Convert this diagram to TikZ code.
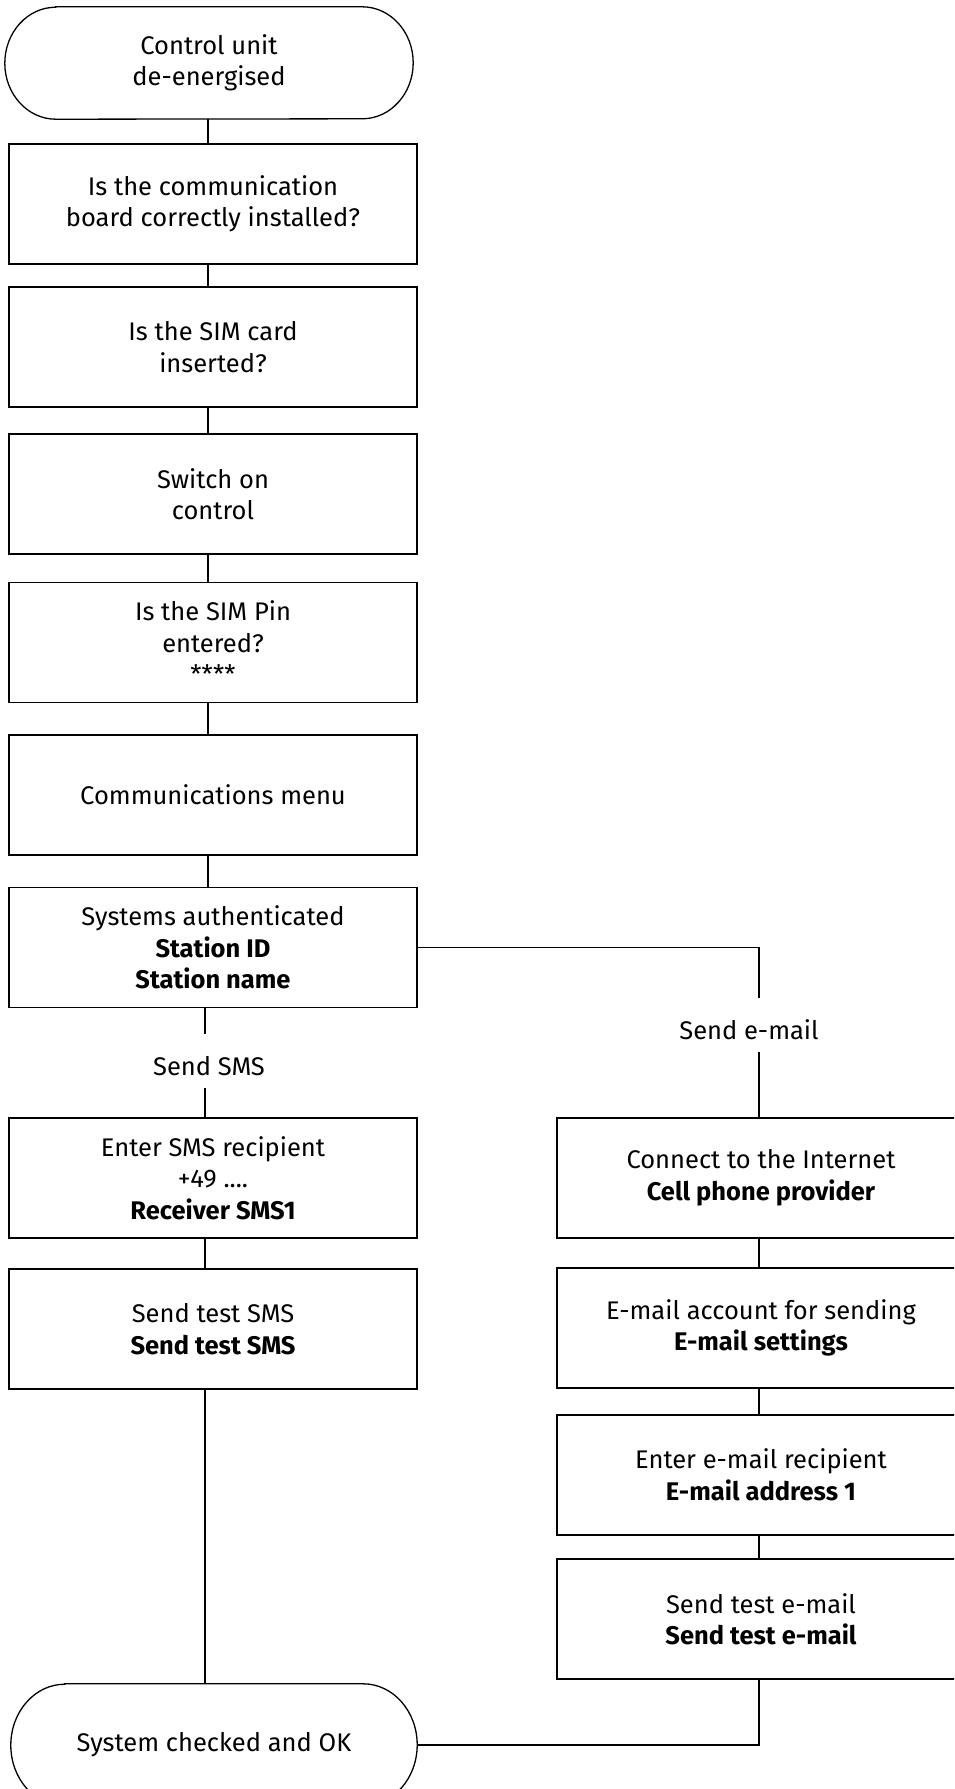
\documentclass[tikz,border=0pt]{standalone}
\usepackage{fontspec}
\setmainfont{Fira Sans}
\usetikzlibrary{calc}
\newcommand\bxfont{\fontsize{25.5}{31.5}\selectfont}
\newcommand\tmfont{\fontsize{25.5}{31}\selectfont}
\tikzset{
  line/.style={line width=1.3pt, black},
  box/.style={draw, line width=1.3pt, minimum width=408pt, minimum height=120pt, inner sep=0pt, align=center, font=\bxfont},
  term/.style={minimum width=408pt, inner sep=0pt, align=center, font=\tmfont},
  lbl/.style={inner sep=0pt, minimum height=54pt, text height=28pt, text depth=0pt, font=\tmfont},
}
\begin{document}
\begin{tikzpicture}[x=1pt,y=-1pt]
\clip (0,0) rectangle (954,1789);
\fill[white] (0,0) rectangle (954,1789);
\coordinate (lxa) at (208,0);
\coordinate (lxb) at (205,0);
\coordinate (rx) at (759,0);

% top terminal
\node[term, minimum height=112pt] (t1) at (209,63) {Control unit\\de-energised};
\draw[line] ([xshift=51pt]t1.north west) -- ([xshift=-51pt]t1.north east)
  arc[start angle=90, end angle=-90, x radius=51pt, y radius=56pt]
  -- ([xshift=51pt]t1.south west)
  arc[start angle=270, end angle=90, x radius=51pt, y radius=56pt] -- cycle;

% left column
\node[box] (b1) at (213,204) {Is the communication\\board correctly installed?};
\node[box] (b2) at (213,347) {Is the SIM card\\inserted?};
\node[box] (b3) at (213,494) {Switch on\\control};
\node[box] (b4) at (213,642.5) {Is the SIM Pin\\entered?\\****};
\node[box] (b5) at (213,795) {Communications menu};
\node[box] (b6) at (213,947.5) {Systems authenticated\\\textbf{Station ID}\\\textbf{Station name}};
\node[lbl] (lsms) at (209,1061) {Send SMS};
\node[box] (b7) at (213,1178) {Enter SMS recipient\\+49 ....\\\textbf{Receiver SMS1}};
\node[box] (b8) at (213,1329) {Send test SMS\\\textbf{Send test SMS}};

% right column
\node[lbl] (lmail) at (749,1025) {Send e-mail};
\node[box] (r1) at (761,1178) {Connect to the Internet\\\textbf{Cell phone provider}};
\node[box] (r2) at (761,1328) {E-mail account for sending\\\textbf{E-mail settings}};
\node[box] (r3) at (761,1475) {Enter e-mail recipient\\\textbf{E-mail address 1}};
\node[box] (r4) at (761,1619) {Send test e-mail\\\textbf{Send test e-mail}};

% bottom terminal
\node[term, minimum width=406pt, minimum height=122pt] (t2) at (214,1745) {System checked and OK};
\draw[line] ([xshift=54pt]t2.north west) -- ([xshift=-54pt]t2.north east)
  arc[start angle=90, end angle=-90, x radius=54pt, y radius=61pt]
  -- ([xshift=54pt]t2.south west)
  arc[start angle=270, end angle=90, x radius=54pt, y radius=61pt] -- cycle;

% connectors
\draw[line] (t1.south -| lxa) -- (b1.north -| lxa);
\draw[line] (b1.south -| lxa) -- (b2.north -| lxa);
\draw[line] (b2.south -| lxa) -- (b3.north -| lxa);
\draw[line] (b3.south -| lxa) -- (b4.north -| lxa);
\draw[line] (b4.south -| lxa) -- (b5.north -| lxa);
\draw[line] (b5.south -| lxa) -- (b6.north -| lxa);
\draw[line] (b6.south -| lxb) -- (lsms.north -| lxb);
\draw[line] (lsms.south -| lxb) -- (b7.north -| lxb);
\draw[line] (b7.south -| lxb) -- (b8.north -| lxb);
\draw[line] (b8.south -| lxb) -- (t2.north -| lxb);

\draw[line] (b6.east) -| (lmail.north -| rx);
\draw[line] (lmail.south -| rx) -- (r1.north -| rx);
\draw[line] (r1.south -| rx) -- (r2.north -| rx);
\draw[line] (r2.south -| rx) -- (r3.north -| rx);
\draw[line] (r3.south -| rx) -- (r4.north -| rx);
\draw[line] (r4.south -| rx) |- (t2.east);
\end{tikzpicture}
\end{document}
